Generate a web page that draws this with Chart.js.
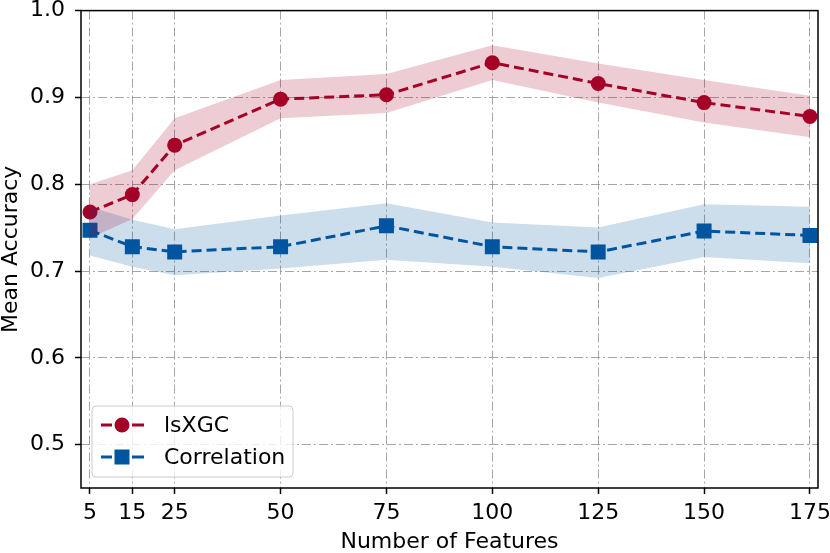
<!DOCTYPE html>
<html>
<head>
<meta charset="utf-8">
<title>Mean Accuracy vs Number of Features</title>
<script src="https://cdn.jsdelivr.net/npm/chart.js@4.4.1/dist/chart.umd.min.js"></script>
<style>
    html, body { margin: 0; padding: 0; background: #fff; }
    #wrap { width: 830px; height: 553px; }
</style>
</head>
<body>
<div id="wrap"><canvas id="accChart" width="830" height="553"></canvas></div>
<script>
// ==== DATA ====
const features = [5, 15, 25, 50, 75, 100, 125, 150, 175];
const xTicks = [5, 15, 25, 50, 75, 100, 125, 150, 175];
const yTicks = [0.5, 0.6, 0.7, 0.8, 0.9, 1.0];

const isxgcMean  = [0.768, 0.788, 0.845, 0.898, 0.903, 0.940, 0.916, 0.894, 0.878];
const isxgcUpper = [0.800, 0.816, 0.876, 0.920, 0.927, 0.960, 0.939, 0.920, 0.902];
const isxgcLower = [0.738, 0.760, 0.816, 0.876, 0.882, 0.920, 0.894, 0.871, 0.854];

const corrMean  = [0.747, 0.728, 0.722, 0.728, 0.752, 0.728, 0.722, 0.746, 0.741];
const corrUpper = [0.774, 0.759, 0.748, 0.764, 0.778, 0.756, 0.750, 0.777, 0.774];
const corrLower = [0.718, 0.705, 0.695, 0.703, 0.713, 0.705, 0.692, 0.716, 0.709];

const seriesNames = ['lsXGC', 'Correlation'];

// ==== STYLE ====
const RED = '#a50026';
const RED_BAND = 'rgba(165, 0, 38, 0.2)';
const BLUE = '#0055a0';
const BLUE_BAND = 'rgba(0, 85, 160, 0.2)';
const FONT = { family: 'DejaVu Sans', size: 22 };
const TITLE_FONT = { family: 'DejaVu Sans', size: 22, lineHeight: 1 };
const GRID = 'rgba(150, 150, 150, 0.85)';

function toPoints(values) {
    return features.map((f, i) => ({ x: f, y: values[i] }));
}

function band(values, color, fill) {
    return {
        data: toPoints(values),
        borderWidth: 0,
        pointRadius: 0,
        backgroundColor: color,
        fill: fill
    };
}

// cadre noir autour de la zone de tracé
const framePlugin = {
    id: 'frame',
    afterDraw(chart) {
        const { ctx, chartArea: a } = chart;
        ctx.save();
        ctx.strokeStyle = '#000';
        ctx.lineWidth = 1.5;
        ctx.strokeRect(a.left, a.top, a.right - a.left, a.bottom - a.top);
        ctx.restore();
    }
};

// légende dans le coin bas gauche, style matplotlib
const legendPlugin = {
    id: 'boxLegend',
    afterDraw(chart) {
        const ctx = chart.ctx;
        const x = 92, y = 406, w = 201, h = 71;
        ctx.save();
        ctx.beginPath();
        ctx.roundRect(x, y, w, h, 4);
        ctx.fillStyle = 'rgba(255, 255, 255, 0.8)';
        ctx.fill();
        ctx.strokeStyle = '#cccccc';
        ctx.lineWidth = 1;
        ctx.stroke();

        const lines = [chart.data.datasets[4], chart.data.datasets[5]];
        lines.forEach((ds, i) => {
            const cy = 425 + i * 32;
            ctx.strokeStyle = ds.borderColor;
            ctx.lineWidth = ds.borderWidth;
            ctx.setLineDash([]);
            ctx.beginPath();
            ctx.moveTo(101, cy); ctx.lineTo(112, cy);
            ctx.moveTo(132, cy); ctx.lineTo(144, cy);
            ctx.stroke();
            ctx.fillStyle = ds.pointBackgroundColor;
            if (ds.pointStyle === 'rect') {
                ctx.fillRect(122 - 7.5, cy - 7.5, 15, 15);
            } else {
                ctx.beginPath();
                ctx.arc(122, cy, 7.5, 0, Math.PI * 2);
                ctx.fill();
            }
            ctx.fillStyle = '#000';
            ctx.font = FONT.size + 'px ' + FONT.family;
            ctx.textBaseline = 'middle';
            ctx.fillText(seriesNames[i], 164, cy + 1);
        });
        ctx.restore();
    }
};

function axisOptions(title, ticks, min, max) {
    return {
        type: 'linear',
        min: min,
        max: max,
        afterBuildTicks: scale => { scale.ticks = ticks.map(v => ({ value: v })); },
        ticks: {
            color: '#000',
            font: FONT,
            autoSkip: false,
            maxRotation: 0
        },
        grid: {
            color: GRID,
            lineWidth: 1,
            tickColor: '#000',
            tickWidth: 1.5,
            tickLength: 6
        },
        border: { display: false, dash: [9, 3, 2, 3] },
        title: {
            display: true,
            text: title,
            color: '#000',
            font: TITLE_FONT,
            padding: { top: 0, bottom: 0 }
        }
    };
}

const xAxis = axisOptions('Number of Features', xTicks, 2.875, 176.9);
xAxis.ticks.padding = 6;
xAxis.afterFit = scale => {
    scale.height = 65;
    scale.paddingLeft = 0;
    scale.paddingRight = 0;
};

const yAxis = axisOptions('Mean Accuracy', yTicks, 0.45, 1.0);
yAxis.ticks.padding = 10;
yAxis.ticks.callback = v => v.toFixed(1);
yAxis.afterFit = scale => {
    scale.width = 81;
    scale.paddingTop = 0;
    scale.paddingBottom = 0;
};

new Chart(document.getElementById('accChart'), {
    type: 'line',
    data: {
        datasets: [
            band(isxgcUpper, RED_BAND, false),
            band(isxgcLower, RED_BAND, '-1'),
            band(corrUpper, BLUE_BAND, false),
            band(corrLower, BLUE_BAND, '-1'),
            {
                label: seriesNames[0],
                data: toPoints(isxgcMean),
                borderColor: RED,
                borderWidth: 3,
                borderDash: [10, 5],
                pointStyle: 'circle',
                pointRadius: 7.5,
                pointBorderWidth: 0,
                pointBackgroundColor: RED,
                fill: false
            },
            {
                label: seriesNames[1],
                data: toPoints(corrMean),
                borderColor: BLUE,
                borderWidth: 3,
                borderDash: [10, 5],
                pointStyle: 'rect',
                pointRadius: 10.6,
                pointBorderWidth: 0,
                pointBackgroundColor: BLUE,
                fill: false
            }
        ]
    },
    options: {
        responsive: false,
        animation: false,
        devicePixelRatio: 1,
        layout: { padding: { top: 9, right: 12, bottom: 0, left: 0 } },
        plugins: {
            legend: { display: false },
            tooltip: { enabled: false }
        },
        scales: { x: xAxis, y: yAxis }
    },
    plugins: [framePlugin, legendPlugin]
});
</script>
</body>
</html>
